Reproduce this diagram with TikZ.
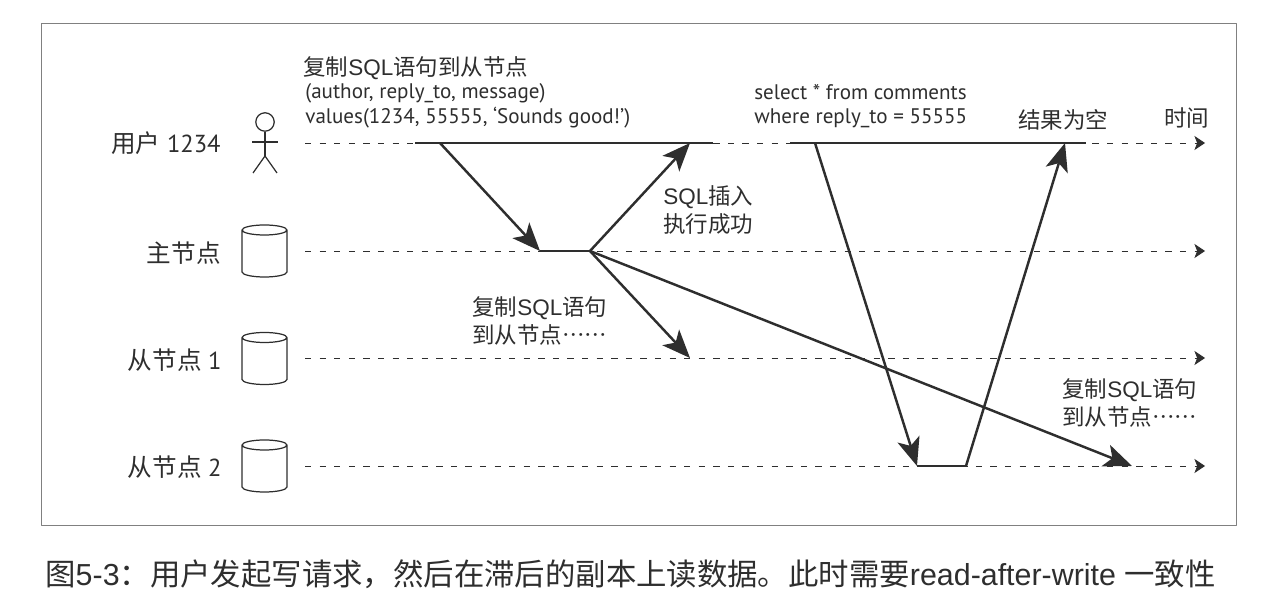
\documentclass[tikz,border=0pt]{standalone}
\usepackage{fontspec}
\setmainfont{PT Sans}
\newfontfamily\cjk{Noto Sans CJK SC}
\newfontfamily\cjktc[Script=CJK,Language=Chinese Traditional]{Noto Sans CJK TC}
\newfontfamily\capfont{Liberation Sans}
\usetikzlibrary{arrows.meta}
\newcommand{\cn}[1]{{\cjk #1}}
\newcommand{\sql}{{\capfont SQL}}
\newcommand{\moredots}{{\cjktc ……}}
\definecolor{inkgray}{HTML}{2E2E2E}
\begin{document}
\begin{tikzpicture}[x=0.02cm, y=-0.02cm, line join=round,
  dbcyl/.pic={\draw [draw=inkgray,line width=0.7pt] (0,-21) ellipse [x radius=22.5,y radius=5] (-22.5,-21) -- (-22.5,21) arc [start angle=180,end angle=0,x radius=22.5,y radius=5] -- (22.5,-21);},
  time line/.style={draw=inkgray,line width=0.55pt,dash pattern=on 3.6pt off 4.7pt,-{Stealth[length=6pt,width=8pt,inset=1.5pt]}},
  hold line/.style={draw=inkgray,line width=1.4pt},
  msg line/.style={draw=inkgray,line width=1.4pt,-{Stealth[length=16pt,width=13pt,inset=4pt]}},
  stick line/.style={draw=inkgray,line width=0.7pt},
  txt node/.style={anchor=west,inner sep=0pt,text=inkgray,font=\fontsize{12}{15}\selectfont},
  cn node/.style={anchor=west,inner sep=0pt,align=left,text=inkgray,font=\fontsize{12.8}{15.9}\selectfont},
  role node/.style={anchor=east,inner sep=0pt,text=inkgray,font=\fontsize{14}{15}\selectfont}]
\useasboundingbox (0,0) rectangle (1275,594);
\draw [draw=gray,line width=0.5pt] (41,23) rectangle (1236,525);
% row ends
\coordinate (u0) at (305,143);
\coordinate (u1) at (1205,143);
\coordinate (l0) at (305,251);
\coordinate (l1) at (1205,251);
\coordinate (a0) at (305,358);
\coordinate (a1) at (1205,358);
\coordinate (b0) at (305,466);
\coordinate (b1) at (1205,466);
\path [every edge/.style=time line] (u0) edge (u1) (l0) edge (l1) (a0) edge (a1) (b0) edge (b1);
% solid spans
\coordinate (w0) at (415,143);
\coordinate (w1) at (440,143);
\coordinate (w2) at (690,143);
\coordinate (w3) at (713,143);
\coordinate (r0) at (790,143);
\coordinate (r1) at (815,143);
\coordinate (r2) at (1065,143);
\coordinate (r3) at (1086,143);
\coordinate (lw0) at (540,251);
\coordinate (lw1) at (590,251);
\coordinate (s1) at (690,358);
\coordinate (s2) at (1132,466);
\coordinate (q0) at (917,466);
\coordinate (q1) at (966,466);
\path [every edge/.style=hold line] (w0) edge (w3) (r0) edge (r3) (lw0) edge (lw1) (q0) edge (q1);
\path [every edge/.style=msg line]
    (w1) edge (lw0)
    (lw1) edge (w2)
    (lw1) edge (s1)
    (lw1) edge (s2)
    (r1) edge (q0)
    (q1) edge (r2);
% roles
\node [role node] (user) at (221,143) {\cn{用户} 1234};
\node [role node] (leader) at (221,253) {\cn{主节点}};
\node [role node] (fol1) at (222,360) {\cn{从节点} 1};
\node [role node] (fol2) at (222,467) {\cn{从节点} 2};
\pic (dbl) at (264.5,251) {dbcyl};
\pic (dba) at (264.5,358.5) {dbcyl};
\pic (dbb) at (264.5,466) {dbcyl};
% stick figure
\node [circle,draw=inkgray,line width=0.7pt,minimum size=10.5pt,inner sep=0pt] (head) at (265,122) {};
\coordinate (hip) at (265,156);
\coordinate (armL) at (252,142);
\coordinate (armR) at (278,142);
\coordinate (legL) at (253,173);
\coordinate (legR) at (277,173);
\path [every edge/.style=stick line] (head) edge (hip) (armL) edge (armR) (hip) edge (legL) (hip) edge (legR);
% labels
\node [cn node] (t1) at (303,68) {\cn{复制}\sql\cn{语句到从节点}};
\node [txt node] (t2) at (305,93) {(author, reply\_to, message)};
\node [txt node] (t3) at (305,118) {values(1234, 55555, ‘Sounds good!’)};
\node [txt node] (t4) at (754,92) {select * from comments};
\node [txt node] (t5) at (754,118) {where reply\_to = 55555};
\node [cn node] (t6) at (1018,120) {\cn{结果为空}};
\node [cn node] (t7) at (1164,118) {\cn{时间}};
\node [cn node] (t8) at (663,210) {\sql\cn{插入}\\\cn{执行成功}};
\node [cn node] (t10) at (472,321) {\cn{复制}\sql\cn{语句}\\\cn{到从节点}\moredots};
\node [cn node] (t12) at (1062,403) {\cn{复制}\sql\cn{语句}\\\cn{到从节点}\moredots};
\node [anchor=west,inner sep=0pt,text=inkgray,font=\fontsize{17.3}{18}\selectfont\capfont] (cap) at (45,574) {\cn{图}5-3\cn{：用户发起写请求，然后在滞后的副本上读数据。此时需要}read-after-write \cn{一致性}};
\end{tikzpicture}
\end{document}
